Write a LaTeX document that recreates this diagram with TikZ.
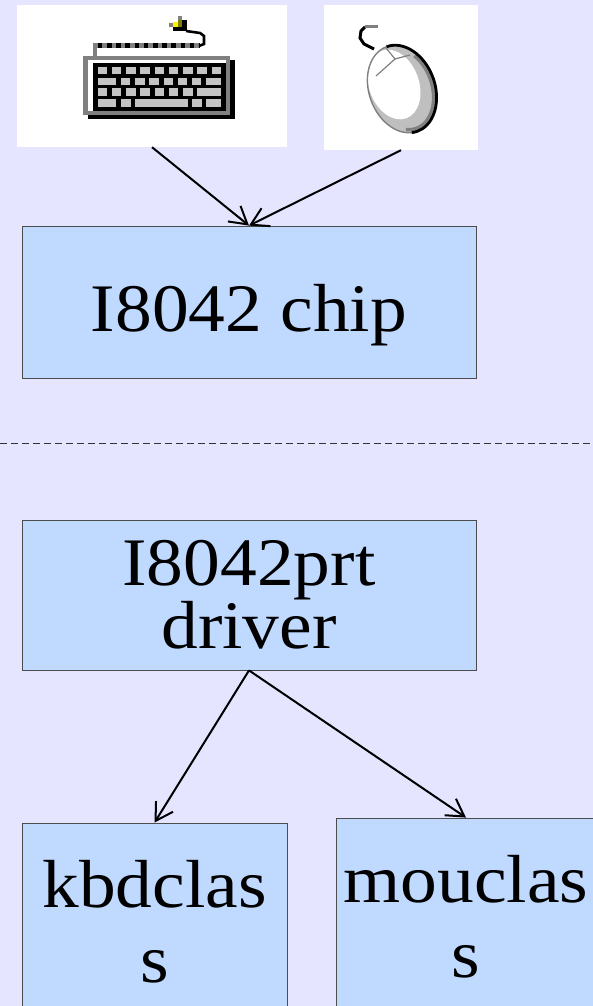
\documentclass[tikz,border=0pt]{standalone}
\usepackage{fontspec}
\setmainfont{Liberation Serif}[FakeStretch=1.08]
\usetikzlibrary{arrows.meta,%
                shapes,positioning}
\definecolor{bgc}{RGB}{229,229,255}
\definecolor{boxc}{RGB}{192,217,255}
\definecolor{keyc}{RGB}{196,196,196}
\definecolor{plugc}{RGB}{128,128,0}

\begin{document}
\begin{tikzpicture}[x=1pt,y=-1pt,
  box/.style={draw=black!70,line width=0.8pt,fill=boxc,inner sep=0pt,align=center,
    font=\fontsize{68}{75}\selectfont},
  iconbox/.style={fill=white,inner sep=0pt},
  arr/.style={-{Straight Barb[length=17pt,width=20pt]},line width=2pt},
  key/.style={fill=keyc}]
\useasboundingbox[fill=bgc] (0,0) rectangle (593,1006);
\node[iconbox,minimum width=270pt,minimum height=142pt] (kbd) at (152,76) {};
\node[iconbox,minimum width=154pt,minimum height=145pt] (mouse) at (401,77.5) {};
\fill[black] (88,60) rectangle (234.5,119);
\fill[black!50] (82.5,56) rectangle (230,115);
\fill[white] (88,60) rectangle (225.8,111);
\fill[black] (92.7,63.3) rectangle (225.8,111);
\foreach \i in {0,...,8} \fill[key] (97.6+14.27*\i,66.7) rectangle ++(9.4,7.5);
\fill[key] (97.6,77.7) rectangle (116,85.2);
\foreach \i in {0,...,5} \fill[key] (121+14.2*\i,77.7) rectangle ++(9.4,7.5);
\fill[key] (206,77.7) rectangle (221,85.2);
\foreach \i in {0,...,6} \fill[key] (97.6+14.27*\i,88.5) rectangle ++(9.4,7.5);
\fill[key] (197,88.5) rectangle (221,96);
\fill[key] (97.6,99.5) rectangle (116,107);
\fill[key] (121,99.5) rectangle (130.5,107);
\fill[key] (135,99.5) rectangle (188,107);
\fill[key] (192,99.5) rectangle (201.6,107);
\fill[key] (206,99.5) rectangle (221,107);
\draw[black!50,line width=4.6pt] (95,57) -- (95,45.5) -- (199,45.5);
\draw[black,line width=4.6pt,dash pattern=on 4.6pt off 4.6pt] (97.7,45.5) -- (199,45.5);
\draw[line width=2.6pt] (186,31) -- (200,33) -- (204,36) -- (204,44) -- (199,46);
\fill[black!50] (178,16) rectangle (182,20);
\fill[black!50] (169,23) rectangle (173,27);
\fill[yellow] (173,22) rectangle (178,27);
\fill[plugc] (178,20) rectangle (182,27);
\fill[black] (182,20) rectangle (187,27);
\fill[black] (173,27) rectangle (187,31);
\begin{scope}[shift={(402,89)},rotate=20]
\fill[black!25] (0,0) ellipse[x radius=33,y radius=45];
\fill[white] (-6,-7) ellipse[x radius=25,y radius=36];
\draw[black!50,line width=1.4pt] (0,0) ellipse[x radius=33,y radius=45];
\draw[black!50,line width=3.5pt] (23,-27) arc[start angle=-40,end angle=110,x radius=30,y radius=42];
\draw[line width=2.8pt] (0,-45) arc[start angle=-90,end angle=100,x radius=33,y radius=45];
\end{scope}
\draw[black!50,line width=1.2pt] (386,48) -- (395,59) -- (376,76);
\draw[black!50,line width=1.2pt] (395,59) -- (410,55);
\draw[line width=3pt] (374,49) -- (364,44) -- (360,38) -- (361,31) -- (365,27);
\draw[black!50,line width=3pt] (365,26.5) -- (378,26.5);
\node[box,minimum width=454pt,minimum height=152pt,text height=60pt,text depth=2pt] (chip) at (249,302) {I8042 chip};
\node[box,minimum width=454pt,minimum height=150pt,font=\fontsize{68}{58}\selectfont] (prt) at (249,595) {I8042prt\\driver};
\node[box,minimum width=265pt,minimum height=197pt] (kbdclass) at (154.5,921.5) {kbdclas\\s};
\node[box,minimum width=260pt,minimum height=197pt] (mouclass) at (466,916.5) {mouclas\\s};
\coordinate (sepl) at (0,443);
\coordinate (sepr) at (593,443);
\draw[black!80,line width=0.8pt,dash pattern=on 7pt off 4pt] (sepl) -- (sepr);
\draw[arr] (kbd.south) -- (chip.north);
\draw[arr] (mouse.south) -- (chip.north);
\draw[arr] (prt.south) -- (kbdclass.north);
\draw[arr] (prt.south) -- (mouclass.north);
\end{tikzpicture}
\end{document}
